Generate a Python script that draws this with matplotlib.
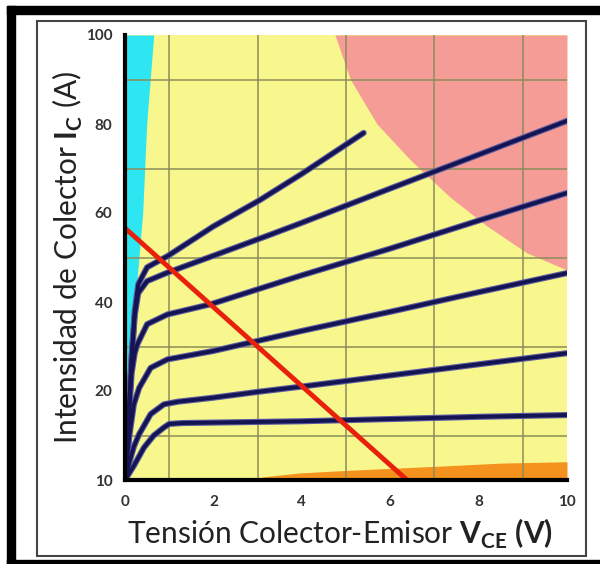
import numpy as np
import matplotlib
matplotlib.use('Agg')
import matplotlib.pyplot as plt
from matplotlib.patches import Rectangle

plt.rcParams['font.family'] = ['Lato', 'DejaVu Sans']
plt.rcParams['mathtext.fontset'] = 'custom'
plt.rcParams['mathtext.rm'] = 'Lato'
plt.rcParams['mathtext.bf'] = 'Lato:bold'

# Axis ticks (y labels are not linear in the original)
x_ticks = [0, 2, 4, 6, 8, 10]
y_ticks = [0, 20, 40, 60, 80, 100]
y_tick_labels = ['10', '20', '40', '60', '80', '100']

# Shaded regions
cyan_y = [0, 20, 40, 60, 80, 90, 100]
cyan_x = [0, 0.15, 0.23, 0.4, 0.49, 0.57, 0.65]

red_x = [4.75, 5.1, 5.7, 6.45, 7.35, 8.2, 9.1, 10]
red_y = [100, 90, 80, 72, 63.6, 57, 51, 47.2]

orange_x = [2.7, 3.2, 3.96, 5.1, 6.2, 7.3, 8.5, 10]
orange_y = [0, 0.8, 1.6, 2.2, 2.7, 3.2, 3.8, 4.1]

# Output characteristic curves
c1_v = [0, 0.2, 0.43, 0.65, 0.88, 1.0, 1.3, 2, 4, 6, 8, 10]
c1_i = [0, 3.2, 7.3, 10, 11.8, 12.6, 12.8, 12.9, 13.2, 13.7, 14.2, 14.6]
c2_v = [0, 0.1, 0.2, 0.32, 0.58, 0.88, 1.2, 2, 3, 4, 6, 8, 10]
c2_i = [0, 4, 7.5, 10.3, 14.8, 17, 17.6, 18.5, 19.8, 21, 23.5, 26, 28.5]
c3_v = [0, 0.1, 0.2, 0.32, 0.58, 0.96, 2, 4, 6, 8, 10]
c3_i = [0, 10, 17, 20.7, 25.2, 27.1, 29, 33.5, 37.8, 42.2, 46.5]
c4_v = [0, 0.08, 0.15, 0.22, 0.28, 0.5, 0.96, 1.94, 4, 6, 8, 10]
c4_i = [0, 13, 24, 28.5, 30.5, 35, 37.2, 39.5, 46, 52, 58.3, 64.5]
c5_v = [0, 0.08, 0.15, 0.22, 0.3, 0.5, 0.96, 2, 3.28, 4, 6, 8, 10]
c5_i = [0, 14, 27, 37, 42, 44.7, 46.6, 50.4, 55.1, 57.8, 65.5, 73.1, 80.7]
c6_v = [0, 0.08, 0.15, 0.22, 0.3, 0.5, 0.96, 2, 3.05, 4, 5.4]
c6_i = [0, 14, 28, 38, 44, 47.8, 50.3, 57, 62.9, 68.8, 78]

# Load line
load_v = [0, 6.38]
load_i = [56.6, 0]

fig = plt.figure(figsize=(6, 5.64), dpi=100)
W, H = 600, 564

# frame: thick black on top/left/bottom, thin inner border
fig.patches.append(Rectangle((7 / W, 1 - 14 / H), 1 - 7 / W, 8 / H, transform=fig.transFigure, color='black'))
fig.patches.append(Rectangle((7 / W, 0), 8 / W, 1 - 6 / H, transform=fig.transFigure, color='black'))
fig.patches.append(Rectangle((7 / W, 0), 1 - 7 / W, 4 / H, transform=fig.transFigure, color='black'))
fig.patches.append(Rectangle((37 / W, 1 - 556 / H), 549 / W, 535 / H, transform=fig.transFigure,
                             fill=False, edgecolor='#444444', linewidth=1.5))

ax = fig.add_axes([125 / W, 1 - 480 / H, 442 / W, 445 / H])
ax.set_xlim(0, 10)
ax.set_ylim(0, 100)
ax.set_facecolor('#f7f78e')

ax.fill_betweenx(cyan_y, 0, cyan_x, color='#2ee6f2', zorder=1, linewidth=0)
ax.fill_between(red_x, red_y, 100, color='#f59c96', zorder=1, linewidth=0)
ax.fill_between(orange_x, 0, orange_y, color='#f5921e', zorder=1, linewidth=0)

ax.set_xticks(np.arange(0, 11, 1), minor=True)
ax.set_yticks(np.arange(0, 101, 10), minor=True)
ax.grid(which='minor', color='#8c8c5a', linewidth=1.1, zorder=2)
ax.set_axisbelow(False)

for v, i in [(c1_v, c1_i), (c2_v, c2_i), (c3_v, c3_i), (c4_v, c4_i), (c5_v, c5_i), (c6_v, c6_i)]:
    ax.plot(v, i, color='#5a5aa0', linewidth=4.4, solid_capstyle='round', solid_joinstyle='round', zorder=3)
    ax.plot(v, i, color='#141452', linewidth=2.8, solid_capstyle='round', solid_joinstyle='round', zorder=4)

ax.plot(load_v, load_i, color='#e8200c', linewidth=3.5, zorder=5)

ax.set_xticks(x_ticks)
ax.set_yticks(y_ticks)
ax.set_yticklabels(y_tick_labels)
ax.tick_params(which='both', length=0, labelsize=11, labelcolor='#333333')
ax.tick_params(axis='x', pad=11)
ax.tick_params(axis='y', pad=9)
for lab in ax.get_xticklabels() + ax.get_yticklabels():
    lab.set_fontweight('bold')

for s in ['top', 'right']:
    ax.spines[s].set_visible(False)
ax.spines['left'].set_linewidth(3)
ax.spines['bottom'].set_linewidth(3)
ax.spines['left'].set_zorder(6)
ax.spines['bottom'].set_zorder(6)

ax.set_xlabel('Tensión Colector-Emisor $\\mathbf{V}_{\\mathbf{CE}}$ $\\mathbf{(V)}$',
              fontsize=21.5, color='#222222', va='center')
ax.set_ylabel('Intensidad de Colector $\\mathbf{I}_{\\mathbf{C}}$ (A)',
              fontsize=21.5, color='#222222', va='center')
ax.xaxis.set_label_coords(0.486, -0.122)
ax.yaxis.set_label_coords(-0.128, 0.5)

fig.savefig('out.png', dpi=100)
